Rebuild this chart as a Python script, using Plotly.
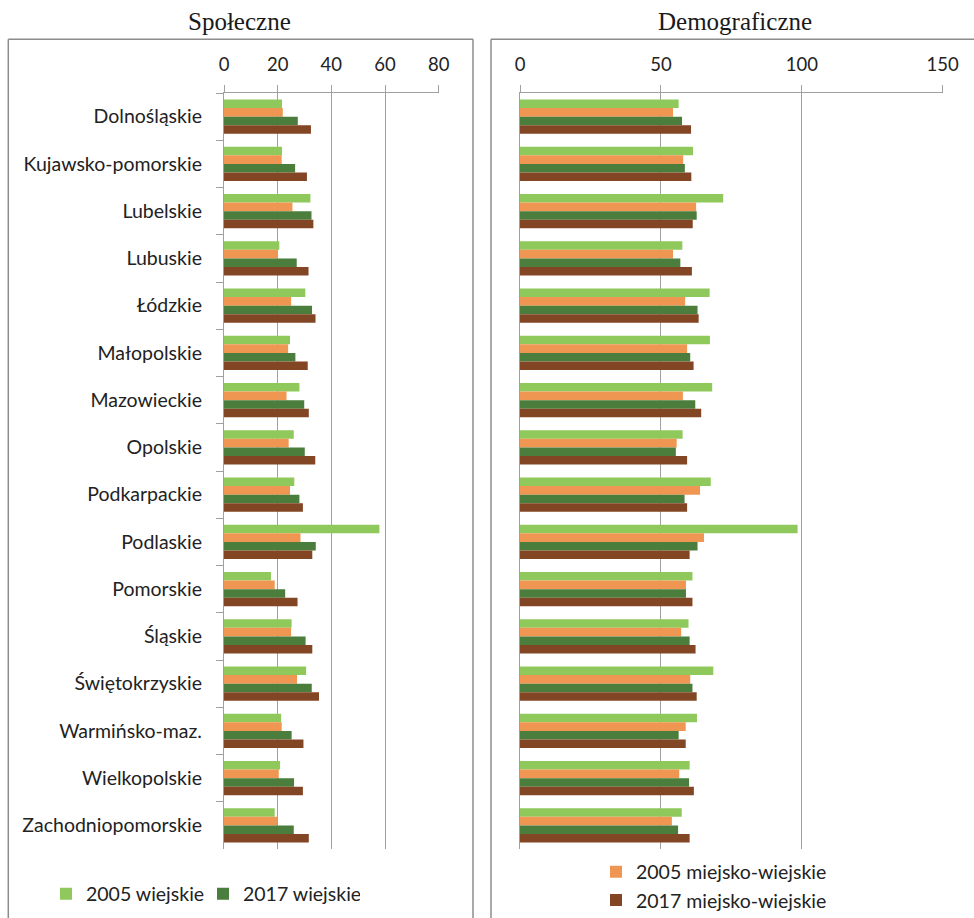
import plotly.graph_objects as go

W, H = 974, 918

regions = ["Dolnośląskie", "Kujawsko-pomorskie", "Lubelskie", "Lubuskie", "Łódzkie",
           "Małopolskie", "Mazowieckie", "Opolskie", "Podkarpackie", "Podlaskie",
           "Pomorskie", "Śląskie", "Świętokrzyskie", "Warmińsko-maz.", "Wielkopolskie",
           "Zachodniopomorskie"]

series_names = ["2005 wiejskie", "2005 miejsko-wiejskie", "2017 wiejskie", "2017 miejsko-wiejskie"]
colors = ["#8FC95B", "#EF9752", "#4B7E3D", "#834624"]

# Społeczne
spol_2005_w = [21.6, 21.6, 32.2, 20.6, 30.3, 24.6, 28.1, 26.0, 26.2, 57.9, 17.5, 25.2, 30.6, 21.3, 20.9, 18.9]
spol_2005_mw = [21.9, 21.5, 25.5, 20.1, 25.0, 23.9, 23.3, 24.1, 24.6, 28.5, 18.9, 25.0, 27.2, 21.5, 20.4, 19.9]
spol_2017_w = [27.5, 26.5, 32.6, 27.1, 32.8, 26.6, 29.9, 30.1, 28.1, 34.2, 22.8, 30.4, 32.7, 25.2, 26.1, 26.0]
spol_2017_mw = [32.4, 30.9, 33.3, 31.5, 34.1, 31.2, 31.6, 34.0, 29.4, 32.9, 27.4, 32.9, 35.4, 29.6, 29.4, 31.6]

# Demograficzne
demo_2005_w = [56.3, 61.4, 72.1, 57.6, 67.3, 67.4, 68.2, 57.7, 67.7, 98.5, 61.2, 59.8, 68.6, 62.8, 60.2, 57.4]
demo_2005_mw = [54.3, 57.9, 62.5, 54.3, 58.6, 59.3, 57.8, 55.6, 63.9, 65.3, 58.9, 57.2, 60.4, 58.8, 56.5, 53.9]
demo_2017_w = [57.5, 58.5, 62.7, 56.9, 63.0, 60.4, 62.2, 55.3, 58.4, 63.0, 58.9, 60.2, 61.2, 56.3, 60.0, 56.1]
demo_2017_mw = [60.7, 60.8, 61.3, 61.0, 63.4, 61.6, 64.3, 59.3, 59.3, 60.2, 61.2, 62.3, 62.7, 58.8, 61.7, 60.2]

spol_ticks = [0, 20, 40, 60, 80]
demo_ticks = [0, 50, 100, 150]

spol = [spol_2005_w, spol_2005_mw, spol_2017_w, spol_2017_mw]
demo = [demo_2005_w, demo_2005_mw, demo_2017_w, demo_2017_mw]

fig = go.Figure()
for i, (name, col, vals) in enumerate(zip(series_names, colors, spol)):
    fig.add_trace(go.Bar(
        x=vals, y=regions, orientation="h", name=name,
        marker=dict(color=col, line=dict(width=0)),
        xaxis="x", yaxis="y", legend="legend",
        showlegend=(i in (0, 2)), hoverinfo="x+y+name"))
for i, (name, col, vals) in enumerate(zip(series_names, colors, demo)):
    fig.add_trace(go.Bar(
        x=vals, y=regions, orientation="h", name=name,
        marker=dict(color=col, line=dict(width=0)),
        xaxis="x2", yaxis="y2", legend="legend2",
        showlegend=(i in (1, 3)), hoverinfo="x+y+name"))

def px_x(v):
    return v / W

def px_y(v):
    return 1 - v / H

grid_col = "#A0A0A0"
font_main = "Lato, 'Open Sans', sans-serif"
txt_col = "#222222"

ydom = [px_y(849), px_y(93)]

common_x = dict(side="top", showgrid=True, gridcolor=grid_col, gridwidth=1.3,
                showline=True, linecolor=grid_col, linewidth=1.3,
                ticks="outside", ticklen=7, tickcolor=grid_col, tickwidth=1.3,
                tickfont=dict(family=font_main, size=18.5, color=txt_col),
                zeroline=False, fixedrange=True, ticklabelstandoff=6, automargin=False)

fig.update_layout(
    width=W, height=H,
    margin=dict(l=0, r=0, t=0, b=0, pad=0, autoexpand=False),
    paper_bgcolor="white", plot_bgcolor="white",
    barmode="group", bargap=0.28, bargroupgap=0,
    font=dict(family=font_main, size=19, color=txt_col),
    xaxis=dict(domain=[px_x(224), px_x(438.7)], range=[0, 80], tickvals=spol_ticks,
               anchor="y", **common_x),
    xaxis2=dict(domain=[px_x(520), px_x(942.7)], range=[0, 150], tickvals=demo_ticks,
                anchor="y2", **common_x),
    yaxis=dict(domain=ydom, autorange="reversed", anchor="x",
               showline=True, linecolor=grid_col, linewidth=1.3,
               ticks="outside", ticklen=7, tickcolor=grid_col, tickwidth=1.3,
               tickson="boundaries", showgrid=False,
               tickfont=dict(family=font_main, size=19.5, color=txt_col),
               ticklabelstandoff=17, fixedrange=True, automargin=False),
    yaxis2=dict(domain=ydom, autorange="reversed", anchor="x2",
                showline=True, linecolor=grid_col, linewidth=1.3,
                ticks="", showticklabels=False, showgrid=False, fixedrange=True,
                automargin=False),
    legend=dict(orientation="h", x=px_x(46), y=px_y(894), xanchor="left", yanchor="middle",
                font=dict(family=font_main, size=19.5, color=txt_col),
                bgcolor="rgba(0,0,0,0)", traceorder="normal",
                entrywidth=112, entrywidthmode="pixels"),
    legend2=dict(orientation="v", x=px_x(596), y=px_y(886), xanchor="left", yanchor="middle",
                 font=dict(family=font_main, size=19.5, color=txt_col),
                 bgcolor="rgba(0,0,0,0)", traceorder="normal"),
    showlegend=True,
)

# panel borders (drawn as open frames: the panels run past the bottom/right edge)
border = dict(color="#8C8C8C", width=1.5)
frame_lines = [
    (8.3, 39.3, 473, 39.3),   # left panel top
    (8.3, 39.3, 8.3, 930),    # left panel left
    (473, 39.3, 473, 930),    # left panel right
    (491, 39.3, 990, 39.3),   # right panel top
    (491, 39.3, 491, 930),    # right panel left
]
for x0, y0, x1, y1 in frame_lines:
    fig.add_shape(type="line", xref="paper", yref="paper",
                  x0=px_x(x0), y0=px_y(y0), x1=px_x(x1), y1=px_y(y1),
                  line=border, layer="below")

# panel titles
title_font = dict(family="'Liberation Serif', 'Times New Roman', serif", size=25, color="#1a1a1a")
fig.add_annotation(text="Społeczne", x=px_x(239), y=px_y(22), xref="paper", yref="paper",
                   showarrow=False, font=title_font, xanchor="center", yanchor="middle")
fig.add_annotation(text="Demograficzne", x=px_x(734.5), y=px_y(22), xref="paper", yref="paper",
                   showarrow=False, font=title_font, xanchor="center", yanchor="middle")

fig.write_html("out.html", config={"displayModeBar": False},
               post_script="document.body.style.margin='0';document.body.style.overflow='hidden';")
